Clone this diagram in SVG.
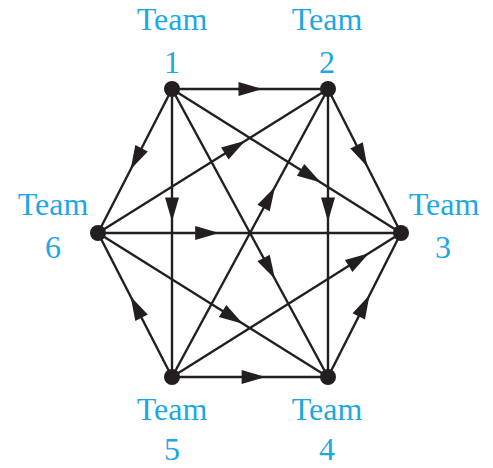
<svg xmlns="http://www.w3.org/2000/svg" width="493" height="468" viewBox="0 0 493 468">
<style>
.edge{stroke:#231f20;stroke-width:2.4;fill:none}
.node{fill:#231f20}
.lbl{font-family:"Liberation Serif","Times New Roman",serif;font-size:32px;fill:#1ea8e3;text-anchor:middle}
.ah{fill:#231f20}
</style>
<defs>
<path id="ah" d="M0,0 L-24,-7 L-24,7 Z"/>
</defs>
<rect width="493" height="468" fill="#ffffff"/>
<g id="connectors">
<line class="edge" x1="172" y1="89" x2="328" y2="89"/>
<line class="edge" x1="172" y1="89" x2="98" y2="233"/>
<line class="edge" x1="172" y1="89" x2="172" y2="377"/>
<line class="edge" x1="172" y1="89" x2="401" y2="233"/>
<line class="edge" x1="172" y1="89" x2="328" y2="377"/>
<line class="edge" x1="328" y1="89" x2="401" y2="233"/>
<line class="edge" x1="328" y1="89" x2="328" y2="377"/>
<line class="edge" x1="98" y1="233" x2="328" y2="89"/>
<line class="edge" x1="172" y1="377" x2="328" y2="89"/>
<line class="edge" x1="98" y1="233" x2="401" y2="233"/>
<line class="edge" x1="98" y1="233" x2="328" y2="377"/>
<line class="edge" x1="172" y1="377" x2="98" y2="233"/>
<line class="edge" x1="172" y1="377" x2="328" y2="377"/>
<line class="edge" x1="172" y1="377" x2="401" y2="233"/>
<line class="edge" x1="328" y1="377" x2="401" y2="233"/>
<use href="#ah" class="ah" transform="translate(262.5,89) rotate(0)"/>
<use href="#ah" class="ah" transform="translate(130.6,169.6) rotate(117.2)"/>
<use href="#ah" class="ah" transform="translate(172,221.5) rotate(90)"/>
<use href="#ah" class="ah" transform="translate(320.9,182.6) rotate(32.16)"/>
<use href="#ah" class="ah" transform="translate(275,279.1) rotate(61.56)"/>
<use href="#ah" class="ah" transform="translate(367.4,166.8) rotate(63.1)"/>
<use href="#ah" class="ah" transform="translate(328,221.5) rotate(90)"/>
<use href="#ah" class="ah" transform="translate(245.2,140.8) rotate(-32.05)"/>
<use href="#ah" class="ah" transform="translate(275,186.9) rotate(-61.56)"/>
<use href="#ah" class="ah" transform="translate(219.2,233) rotate(0)"/>
<use href="#ah" class="ah" transform="translate(242.9,323.7) rotate(32.05)"/>
<use href="#ah" class="ah" transform="translate(130.6,296.4) rotate(-117.2)"/>
<use href="#ah" class="ah" transform="translate(265.6,377) rotate(0)"/>
<use href="#ah" class="ah" transform="translate(369,253.2) rotate(-32.16)"/>
<use href="#ah" class="ah" transform="translate(369.6,294.9) rotate(-63.1)"/>
</g>
<g id="team1"><circle class="node" cx="172" cy="89" r="8"/><text class="lbl" x="172" y="30">Team</text><text class="lbl" x="172" y="73">1</text></g>
<g id="team2"><circle class="node" cx="328" cy="89" r="8"/><text class="lbl" x="327" y="30">Team</text><text class="lbl" x="327" y="73">2</text></g>
<g id="team3"><circle class="node" cx="401" cy="233" r="8"/><text class="lbl" x="444" y="215">Team</text><text class="lbl" x="443" y="258">3</text></g>
<g id="team4"><circle class="node" cx="328" cy="377" r="8"/><text class="lbl" x="327" y="420">Team</text><text class="lbl" x="327" y="460">4</text></g>
<g id="team5"><circle class="node" cx="172" cy="377" r="8"/><text class="lbl" x="172" y="420">Team</text><text class="lbl" x="172" y="460">5</text></g>
<g id="team6"><circle class="node" cx="98" cy="233" r="8"/><text class="lbl" x="53" y="215">Team</text><text class="lbl" x="53" y="258">6</text></g>
</svg>
